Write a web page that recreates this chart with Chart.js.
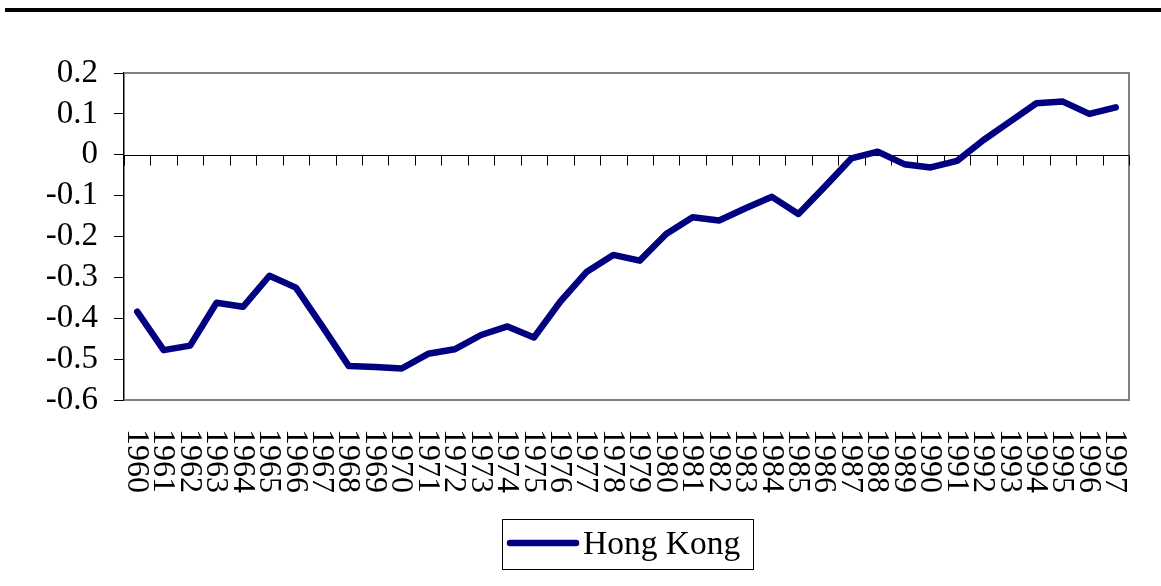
<!DOCTYPE html>
<html>
<head>
<meta charset="utf-8">
<script src="https://cdn.jsdelivr.net/npm/chart.js@4.4.1/dist/chart.umd.min.js"></script>
<style>
  html, body { margin: 0; padding: 0; background: #fff; }
  #c { display: block; }
</style>
</head>
<body>
<canvas id="c" width="1161" height="586"></canvas>
<script>
const years = ['1960','1961','1962','1963','1964','1965','1966','1967','1968','1969',
               '1970','1971','1972','1973','1974','1975','1976','1977','1978','1979',
               '1980','1981','1982','1983','1984','1985','1986','1987','1988','1989',
               '1990','1991','1992','1993','1994','1995','1996','1997'];
const hongKong = [-0.384, -0.478, -0.467, -0.362, -0.372, -0.296, -0.325, -0.420, -0.517, -0.519,
                  -0.523, -0.487, -0.476, -0.441, -0.420, -0.447, -0.359, -0.286, -0.245, -0.259,
                  -0.194, -0.153, -0.161, -0.131, -0.103, -0.145, -0.078, -0.009, 0.0075, -0.023,
                  -0.031, -0.015, 0.036, 0.081, 0.126, 0.130, 0.100, 0.116];
const seriesName = 'Hong Kong';
const yMin = -0.6, yMax = 0.2, yStep = 0.1;

const FONT = '"Liberation Serif", "Times New Roman", serif';
const LINE_COLOR = '#000080';

const decor = {
  id: 'decor',
  beforeDatasetsDraw(chart) {
    const ctx = chart.ctx, a = chart.chartArea;
    const x = chart.scales.x, y = chart.scales.y;
    ctx.save();
    // plot border (top, right, bottom) in gray
    ctx.strokeStyle = '#808080';
    ctx.lineWidth = 2;
    ctx.beginPath();
    ctx.moveTo(a.left, a.top); ctx.lineTo(a.right, a.top);
    ctx.lineTo(a.right, a.bottom); ctx.lineTo(a.left, a.bottom);
    ctx.stroke();
    // zero line with category tick marks
    const y0 = Math.round(y.getPixelForValue(0)) + 0.5;
    ctx.strokeStyle = '#000';
    ctx.lineWidth = 1;
    ctx.beginPath();
    ctx.moveTo(a.left, y0); ctx.lineTo(a.right, y0);
    const n = years.length;
    const step = (x.getPixelForValue(1) - x.getPixelForValue(0));
    for (let i = 0; i <= n; i++) {
      const px = Math.round(x.getPixelForValue(0) - step / 2 + i * step) + 0.5;
      ctx.moveTo(px, y0); ctx.lineTo(px, y0 + 10);
    }
    ctx.stroke();
    ctx.restore();
  },
  afterDraw(chart) {
    const ctx = chart.ctx, a = chart.chartArea;
    const x = chart.scales.x;
    ctx.save();
    // top black rule
    ctx.fillStyle = '#000';
    ctx.fillRect(5, 8, chart.width - 5, 4);
    // x labels rotated clockwise
    ctx.font = '32px ' + FONT;
    ctx.fillStyle = '#000';
    ctx.textAlign = 'left';
    ctx.textBaseline = 'middle';
    years.forEach((lab, i) => {
      const px = x.getPixelForValue(i);
      ctx.save();
      ctx.translate(px - 1, a.bottom + 29);
      ctx.rotate(Math.PI / 2);
      ctx.fillText(lab, 0, 0);
      ctx.restore();
    });
    // legend
    ctx.strokeStyle = '#000';
    ctx.lineWidth = 1;
    ctx.strokeRect(502.5, 519.5, 251, 50);
    ctx.strokeStyle = LINE_COLOR;
    ctx.lineWidth = 6.5;
    ctx.lineCap = 'round';
    ctx.beginPath();
    ctx.moveTo(510, 543); ctx.lineTo(576, 543);
    ctx.stroke();
    ctx.font = '33.5px ' + FONT;
    ctx.fillStyle = '#000';
    ctx.textAlign = 'left';
    ctx.textBaseline = 'middle';
    ctx.fillText(seriesName, 583, 545);
    ctx.restore();
  }
};

new Chart(document.getElementById('c'), {
  type: 'line',
  data: {
    labels: years,
    datasets: [{
      label: seriesName,
      data: hongKong,
      borderColor: LINE_COLOR,
      backgroundColor: LINE_COLOR,
      borderWidth: 6.5,
      borderJoinStyle: 'round',
      borderCapStyle: 'round',
      pointRadius: 0,
      tension: 0,
      fill: false
    }]
  },
  options: {
    responsive: false,
    animation: false,
    devicePixelRatio: 1,
    layout: { padding: { top: 73, right: 32, left: 0, bottom: 0 } },
    plugins: { legend: { display: false }, tooltip: { enabled: false } },
    scales: {
      x: {
        type: 'category',
        offset: true,
        ticks: { display: false },
        grid: { display: false },
        border: { display: false },
        afterFit: s => { s.height = 186; }
      },
      y: {
        min: yMin, max: yMax,
        ticks: {
          stepSize: yStep,
          autoSkip: false,
          padding: 16,
          color: '#000',
          font: { family: FONT, size: 33 },
          callback: v => String(Math.round(v * 10) / 10)
        },
        grid: { drawOnChartArea: false, drawTicks: true, tickLength: 10, color: '#000', lineWidth: 1 },
        border: { display: true, color: '#000', width: 1.5 },
        afterFit: s => { s.width = 124; }
      }
    }
  },
  plugins: [decor]
});
</script>
</body>
</html>
